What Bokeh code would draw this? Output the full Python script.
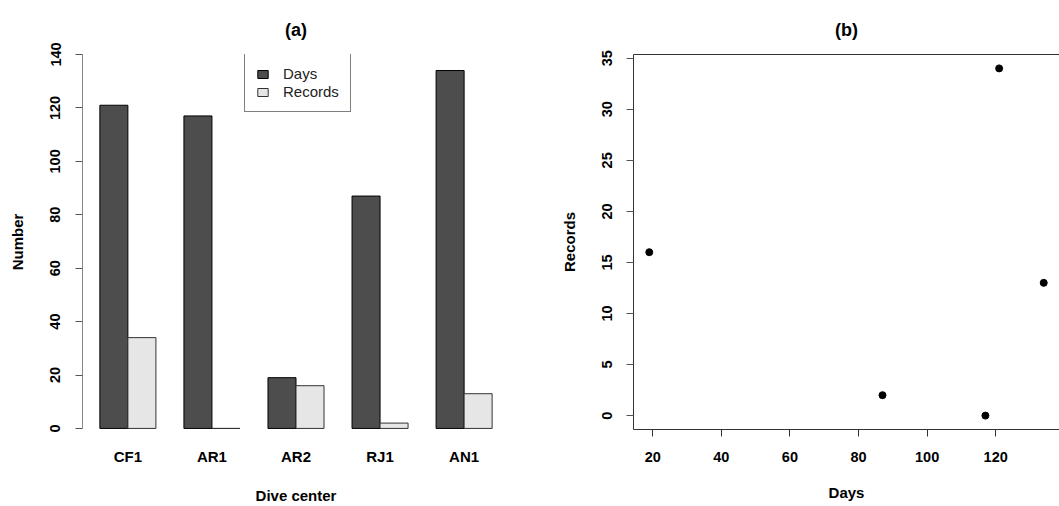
from bokeh.plotting import figure
from bokeh.layouts import row
from bokeh.models import (FactorRange, Range1d, Legend, LegendItem,
                          ColumnDataSource, LinearAxis, FixedTicker)
from bokeh.transform import dodge
from bokeh.embed import file_html
from bokeh.resources import INLINE

# ---------------- data ----------------
centers = ["CF1", "AR1", "AR2", "RJ1", "AN1"]
days = [121, 117, 19, 87, 134]
records = [34, 0, 16, 2, 13]
y_ticks_a = [0, 20, 40, 60, 80, 100, 120, 140]
x_ticks_b = [20, 40, 60, 80, 100, 120]
y_ticks_b = [0, 5, 10, 15, 20, 25, 30, 35]

FONT = "Liberation Sans"
DARK = "#4D4D4D"
LIGHT = "#E6E6E6"

src = ColumnDataSource(dict(centers=centers, days=days, records=records))

TOP, BOTTOM = 54, 75


def style_title(p, text):
    p.title.text = text
    p.title.align = "center"
    p.title.text_font = FONT
    p.title.text_font_size = "18px"
    p.title.text_font_style = "bold"
    p.title.text_color = "black"
    p.title.standoff = 30


def style_axis(ax, label, tick_size, label_standoff, axis_standoff):
    ax.minor_tick_line_color = None
    ax.major_tick_in = 0
    ax.major_label_standoff = label_standoff
    ax.major_label_text_font = FONT
    ax.major_label_text_font_size = tick_size
    ax.major_label_text_font_style = "bold"
    ax.major_label_text_color = "black"
    ax.axis_label = label
    ax.axis_label_text_font = FONT
    ax.axis_label_text_font_size = "15px"
    ax.axis_label_text_font_style = "bold"
    ax.axis_label_text_color = "black"
    ax.axis_label_standoff = axis_standoff


# ---------------- panel (a) ----------------
p1 = figure(width=530, height=506,
            x_range=FactorRange(factors=centers, range_padding=0.04,
                                range_padding_units="absolute"),
            y_range=Range1d(-0.4, 140),
            output_backend="svg", toolbar_location=None,
            min_border_left=82, min_border_right=21,
            min_border_top=TOP, min_border_bottom=BOTTOM)
p1.outline_line_color = None
p1.grid.visible = False
p1.background_fill_color = "white"
p1.border_fill_color = "white"

r_days = p1.vbar(x=dodge("centers", -1/6, range=p1.x_range), top="days",
                 width=1/3, source=src, fill_color=DARK, line_color="black",
                 line_width=1)
r_rec = p1.vbar(x=dodge("centers", 1/6, range=p1.x_range), top="records",
                width=1/3, source=src, fill_color=LIGHT, line_color="#333333",
                line_width=1)

ya = p1.left[0]
ya.ticker = y_ticks_a
ya.bounds = (y_ticks_a[0], y_ticks_a[-1])
ya.axis_line_color = "#888888"
ya.major_tick_line_color = "#555555"
ya.major_tick_out = 7
ya.major_label_orientation = "vertical"
style_axis(ya, "Number", "14.5px", 15, 22)

xa = p1.below[0]
xa.axis_line_color = None
xa.major_tick_line_color = None
xa.major_tick_out = 0
style_axis(xa, "Dive center", "15px", 18, 19)

style_title(p1, "(a)")

legend = Legend(items=[LegendItem(label="Days", renderers=[r_days]),
                       LegendItem(label="Records", renderers=[r_rec])],
                location=(162, 317), padding=11, spacing=1, margin=0,
                glyph_width=13, glyph_height=10, label_standoff=14,
                label_height=16, border_line_color="black",
                border_line_width=1, background_fill_color="white",
                background_fill_alpha=1.0, label_text_font=FONT,
                label_text_font_size="15px", label_text_color="#222222")
p1.add_layout(legend)

# ---------------- panel (b) ----------------
p2 = figure(width=529, height=506,
            x_range=Range1d(14.4, 138.6), y_range=Range1d(-1.36, 35.36),
            output_backend="svg", toolbar_location=None,
            min_border_left=103, min_border_right=0,
            min_border_top=TOP, min_border_bottom=BOTTOM)
p2.outline_line_color = None
p2.grid.visible = False
p2.background_fill_color = "white"
p2.border_fill_color = "white"

p2.scatter(days, records, size=7, color="black")

# top edge of the box (the right edge lies just past the page)
top_ax = LinearAxis(ticker=FixedTicker(ticks=[]), axis_line_color="#333333",
                    axis_line_width=1, major_tick_out=0, major_tick_in=0,
                    major_tick_line_color=None, minor_tick_line_color=None,
                    major_label_standoff=0)
p2.add_layout(top_ax, "above")

yb = p2.left[0]
yb.ticker = y_ticks_b
yb.axis_line_color = "#333333"
yb.major_tick_line_color = "#555555"
yb.major_tick_out = 7
yb.major_label_orientation = "vertical"
style_axis(yb, "Records", "14.5px", 14, 22)

xb = p2.below[0]
xb.ticker = x_ticks_b
xb.axis_line_color = "#333333"
xb.major_tick_line_color = "#333333"
xb.major_tick_out = 7
style_axis(xb, "Days", "14.5px", 15, 19)

style_title(p2, "(b)")

layout = row(p1, p2)
open("out.html", "w").write(file_html(layout, INLINE))
